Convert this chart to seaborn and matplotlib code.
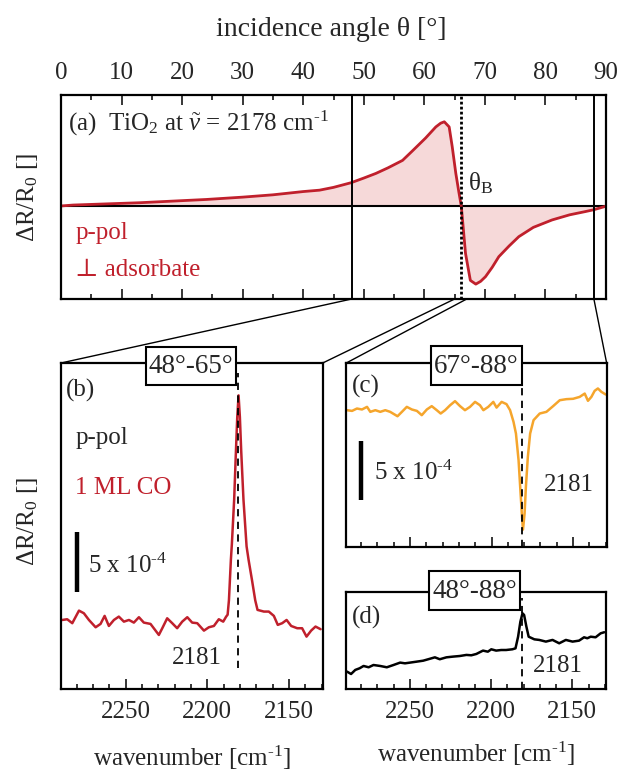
import matplotlib
matplotlib.use("Agg")
import matplotlib.pyplot as plt
from matplotlib.patches import ConnectionPatch, Rectangle
import seaborn as sns

# ---- reflectance change vs. incidence angle (TiO2, 2178 cm-1, p-pol) ----
angle_deg = [0, 2, 13, 24, 30, 35, 40, 42.7, 45, 47.9, 50, 52, 54, 56.4, 58,
             60.2, 61.9, 62.7, 63.3, 64.1, 64.6, 65.2, 65.7, 66.1, 66.8, 67.6,
             68.5, 69.3, 70.1, 71.2, 72.3, 74, 75.6, 78, 81.1, 84, 86.6, 88,
             89.6, 90]
dR_tio2 = [0.0, 0.01, 0.035, 0.07, 0.095, 0.12, 0.155, 0.17, 0.2, 0.25, 0.3,
           0.35, 0.41, 0.49, 0.59, 0.73, 0.85, 0.89, 0.905, 0.85, 0.64, 0.35,
           0.15, 0.0, -0.51, -0.80, -0.84, -0.81, -0.76, -0.66, -0.545, -0.43,
           -0.33, -0.23, -0.15, -0.095, -0.06, -0.04, -0.01, 0.0]
brewster_deg = 66.1
range_b = (48, 65)
range_c = (67, 88)
angle_ticks = list(range(0, 91, 10))

# ---- IR spectra, 1 ML CO (units of 1e-4) ----
wn_b = [2288.7, 2285.7, 2282.6, 2278.5, 2275.5, 2272.4, 2268.3, 2265.3, 2262.8,
        2260.2, 2257.1, 2254.1, 2251.0, 2247.9, 2244.9, 2241.8, 2238.8, 2234.7,
        2229.6, 2227.5, 2224.5, 2221.4, 2218.4, 2215.3, 2212.2, 2209.2, 2206.1,
        2202.0, 2199.0, 2195.9, 2192.9, 2190.2, 2188.4, 2187.5, 2186.7, 2186.1,
        2185.5, 2184.9, 2183.5, 2182.4, 2181.6, 2180.8, 2180.0, 2179.2, 2177.8,
        2175.9, 2174.7, 2172.6, 2170.6, 2169.2, 2165.3, 2162.3, 2159.2, 2156.8,
        2154.1, 2151.4, 2148.6, 2144.9, 2141.9, 2139.2, 2136.4, 2133.7, 2130.6]
sig_b = [0.16, 0.22, -0.11, 0.94, 0.72, 0.16, -0.45, -0.17, 0.50, -0.34, 0.16,
         0.44, 0.02, 0.16, -0.06, 0.39, -0.06, -0.17, -1.09, -0.53, 0.30, -0.11,
         -0.53, 0.02, 0.39, -0.06, -0.11, -0.73, -0.45, -0.34, 0.22, 0.02, 0.44,
         0.6, 1.8, 3.5, 5.2, 6.5, 10.2, 14.3, 17.1, 18.9, 17.1, 14.3, 10.2, 6.3,
         5.2, 3.5, 1.8, 1.0, 0.86, 0.86, 0.50, -0.25, -0.11, 0.16, -0.34, -0.53,
         -0.53, -1.23, -0.73, -0.39, -0.61]

wn_c = [2288.7, 2285.6, 2282.6, 2279.5, 2276.4, 2274.4, 2271.3, 2268.3, 2265.2,
        2262.2, 2257.7, 2255.0, 2252.0, 2248.9, 2245.8, 2242.8, 2239.7, 2236.7,
        2233.6, 2231.2, 2228.5, 2225.4, 2222.4, 2219.3, 2216.3, 2213.2, 2210.1,
        2207.1, 2205.0, 2202.0, 2198.9, 2196.9, 2193.8, 2190.8, 2188.6, 2186.5,
        2185.0, 2183.4, 2182.4, 2181.4, 2180.7, 2179.7, 2178.9, 2177.7, 2176.3,
        2174.2, 2170.4, 2166.3, 2162.2, 2158.1, 2154.0, 2149.9, 2145.9, 2142.8,
        2140.8, 2138.7, 2136.7, 2134.7, 2132.6, 2129.9]
sig_c = [0.0, -0.06, 0.14, 0.06, 0.28, -0.14, 0.0, -0.14, 0.0, -0.14, -0.51,
         -0.14, 0.28, 0.06, -0.06, -0.42, 0.06, 0.34, 0.0, -0.28, 0.0, 0.42,
         0.76, 0.34, 0.0, 0.28, 0.70, 0.42, 0.0, 0.28, 0.70, 0.22, 0.70, 0.51,
         0.0, -0.98, -1.97, -4.21, -6.46, -8.71, -10.06, -8.71, -6.46, -3.93,
         -1.97, -0.84, -0.28, -0.14, 0.34, 0.84, 0.93, 0.96, 1.12, 1.40, 0.79,
         1.12, 1.63, 1.83, 1.55, 1.32]

wn_d = [2288.7, 2286.2, 2283.6, 2280.9, 2278.5, 2275.4, 2272.4, 2268.3, 2264.2,
        2260.1, 2256.0, 2253.0, 2249.9, 2245.8, 2241.8, 2238.7, 2234.6, 2231.6,
        2227.5, 2223.4, 2219.3, 2215.2, 2212.2, 2209.1, 2205.0, 2202.0, 2199.9,
        2196.9, 2193.8, 2190.8, 2186.9, 2185.0, 2183.4, 2182.0, 2180.7, 2179.7,
        2178.3, 2176.9, 2173.4, 2170.4, 2166.3, 2162.2, 2158.1, 2154.0, 2149.9,
        2145.9, 2142.8, 2140.8, 2138.7, 2135.7, 2132.6, 2130.4]
sig_d = [1.45, 1.25, 1.59, 1.73, 1.92, 1.81, 2.00, 1.92, 1.81, 2.00, 2.20, 2.14,
         2.20, 2.28, 2.36, 2.48, 2.64, 2.48, 2.64, 2.70, 2.75, 2.84, 2.81, 2.92,
         3.20, 3.11, 3.31, 3.20, 3.25, 3.25, 3.31, 3.39, 4.36, 5.61, 6.31, 6.17,
         5.20, 4.36, 4.14, 4.09, 3.95, 4.09, 3.81, 4.09, 3.95, 4.03, 4.31, 4.23,
         4.36, 4.31, 4.64, 4.73]

co_band = 2181
scale_bar = 5          # 5 x 10^-4
wn_major = [2250, 2200, 2150]
wn_minor = list(range(2280, 2129, -10))

# ---- style ----
sns.set_theme(style="white")
plt.rcParams["font.family"] = ["Liberation Serif", "DejaVu Serif"]
plt.rcParams["mathtext.fontset"] = "custom"
plt.rcParams["mathtext.rm"] = "Liberation Serif"
plt.rcParams["mathtext.it"] = "Liberation Serif:italic"
plt.rcParams["axes.edgecolor"] = "black"
plt.rcParams["axes.linewidth"] = 1.6

RED = "#c0202c"
PINK = "#f6d9d9"
ORANGE = "#f5a52c"
FS = 18

W, H = 619, 772
fig = plt.figure(figsize=(W / 100, H / 100), dpi=100)
fig.patch.set_facecolor("white")


def box(l, t, r, b):
    return [l / W, 1 - b / H, (r - l) / W, (b - t) / H]


def ftxt(x, y, s, **kw):
    kw.setdefault("fontsize", FS)
    return fig.text(x / W, 1 - y / H, s, **kw)


def range_tag(l, t, r, b, s):
    fig.add_artist(Rectangle((l / W, 1 - b / H), (r - l) / W, (b - t) / H,
                             transform=fig.transFigure, fc="white", ec="black",
                             lw=1.5, zorder=20))
    ftxt((l + r) / 2, (t + b) / 2 + 1, s, fontsize=19.5, ha="center",
         va="center", zorder=21)


ax_a = fig.add_axes(box(61, 95, 606, 299))
ax_b = fig.add_axes(box(61, 363, 322.7, 689))
ax_c = fig.add_axes(box(345.7, 363.3, 606.7, 546.7))
ax_d = fig.add_axes(box(345.7, 592.3, 606, 689))

# ---- panel (a) ----
ya = (-1.0, 1.193)
ax_a.fill_between(angle_deg, dR_tio2, 0, color=PINK, lw=0)
ax_a.axhline(0, color="black", lw=1.5)
sns.lineplot(x=angle_deg, y=dR_tio2, ax=ax_a, color=RED, lw=2.0)
for a in (range_b[0], range_c[1]):
    ax_a.axvline(a, color="black", lw=1.4)
ax_a.axvline(brewster_deg, color="black", lw=2.0, ls=(0, (1, 0.8)))
ax_a.set_xlim(0, 90)
ax_a.set_ylim(*ya)
ax_a.set_xticks(angle_ticks)
ax_a.set_xticks(list(range(5, 90, 10)), minor=True)
ax_a.set_yticks([])
ax_a.tick_params(axis="x", which="both", direction="in", top=True, bottom=True,
                 labeltop=True, labelbottom=False, width=1.3, labelsize=FS, pad=8)
ax_a.tick_params(axis="x", which="major", length=7)
ax_a.tick_params(axis="x", which="minor", length=3.5)
ax_a.set_xlabel("")
ax_a.set_ylabel("")
ax_a.text(0.012, 0.86, r"(a)  TiO$_2$ at $\tilde{\nu}$ = 2178 cm$^{\text{-1}}$",
          transform=ax_a.transAxes, fontsize=FS, va="center", ha="left")
ax_a.text(0.026, 0.325, "p-pol", transform=ax_a.transAxes, color=RED,
          fontsize=FS, va="center")
ax_a.text(0.026, 0.14, "⊥ adsorbate", transform=ax_a.transAxes, color=RED,
          fontsize=FS, va="center")
ax_a.text(67.2, 0.24, r"θ$_\mathrm{B}$", fontsize=FS, va="center")

# ---- spectra panels ----
xl = (2289.5, 2129.3)


def spectrum_axes(ax, show_labels):
    ax.set_xlim(*xl)
    ax.set_yticks([])
    ax.set_xticks(wn_major)
    ax.set_xticks(wn_minor, minor=True)
    ax.tick_params(axis="x", which="both", direction="in", bottom=True, top=False,
                   width=1.3, labelsize=FS, labelbottom=show_labels, pad=9)
    ax.tick_params(axis="x", which="major", length=7.5)
    ax.tick_params(axis="x", which="minor", length=3.5)
    ax.set_xlabel("")
    ax.set_ylabel("")


# (b)
sns.lineplot(x=wn_b, y=sig_b, ax=ax_b, color=RED, lw=1.8)
ax_b.set_ylim(-5.6, 21.6)
ax_b.axvline(co_band, ymin=0.065, ymax=0.97, color="black", lw=1.3, ls=(0, (4, 3)))
spectrum_axes(ax_b, True)
ax_b.text(0.02, 0.915, "(b)", transform=ax_b.transAxes, fontsize=FS, va="center")
ax_b.text(0.055, 0.77, "p-pol", transform=ax_b.transAxes, fontsize=FS, va="center")
ax_b.text(0.055, 0.617, "1 ML CO", transform=ax_b.transAxes, fontsize=FS,
          va="center", color=RED)
ax_b.plot([2280, 2280], [2.5, 2.5 + scale_bar], color="black", lw=3.2,
          solid_capstyle="butt")
ax_b.text(2273, 4.1, r"5 x 10$^{\text{-4}}$", fontsize=FS, va="baseline")
ax_b.text(2191, -3.0, str(co_band), fontsize=FS, va="center", ha="right")

# (c)
sns.lineplot(x=wn_c, y=sig_c, ax=ax_c, color=ORANGE, lw=1.8)
ax_c.set_ylim(-11.5, 3.95)
ax_c.axvline(co_band, ymin=0.0, ymax=0.95, color="black", lw=1.3, ls=(0, (4, 3)))
spectrum_axes(ax_c, False)
ax_c.text(0.025, 0.875, "(c)", transform=ax_c.transAxes, fontsize=FS, va="center")
ax_c.plot([2280.0, 2280.0], [-7.6, -7.6 + scale_bar], color="black", lw=3.2,
          solid_capstyle="butt")
ax_c.text(2272, -5.9, r"5 x 10$^{\text{-4}}$", fontsize=FS, va="baseline")
ax_c.text(2152.5, -6.3, str(co_band), fontsize=FS, va="center", ha="center")

# (d)
sns.lineplot(x=wn_d, y=sig_d, ax=ax_d, color="black", lw=1.8)
ax_d.set_ylim(0, 8.06)
ax_d.axvline(co_band, ymin=0.0, ymax=0.94, color="black", lw=1.3, ls=(0, (4, 3)))
spectrum_axes(ax_d, True)
ax_d.text(0.025, 0.74, "(d)", transform=ax_d.transAxes, fontsize=FS, va="center")
ax_d.text(2174.5, 1.9, str(co_band), fontsize=FS, va="center", ha="left")

# ---- angle-range tags on the spectra frames ----
range_tag(146, 346.7, 236, 385, f"{range_b[0]}°-{range_b[1]}°")
range_tag(431, 346, 521.7, 385, f"{range_c[0]}°-{range_c[1]}°")
range_tag(429, 571, 520, 610, f"{range_b[0]}°-{range_c[1]}°")

# ---- zoom connectors from the angle axis to the spectra ----
for ang, tgt, corner in ((range_b[0], ax_b, (0, 1)), (range_b[1], ax_b, (1, 1)),
                         (range_c[0], ax_c, (0, 1)), (range_c[1], ax_c, (1, 1))):
    con = ConnectionPatch(xyA=(ang, ya[0]), coordsA=ax_a.transData,
                          xyB=corner, coordsB=tgt.transAxes,
                          color="black", lw=1.0)
    fig.add_artist(con)

# ---- axis titles ----
ftxt(331, 29, "incidence angle θ [°]", fontsize=20, ha="center", va="center")
ftxt(28, 197, r"ΔR/R$_0$ []", rotation=90, ha="center", va="center")
ftxt(28, 521, r"ΔR/R$_0$ []", rotation=90, ha="center", va="center")
ftxt(192, 758, r"wavenumber [cm$^{\text{-1}}$]", ha="center", va="center")
ftxt(476, 754, r"wavenumber [cm$^{\text{-1}}$]", ha="center", va="center")

fig.savefig("out.png", dpi=100, facecolor="white")
